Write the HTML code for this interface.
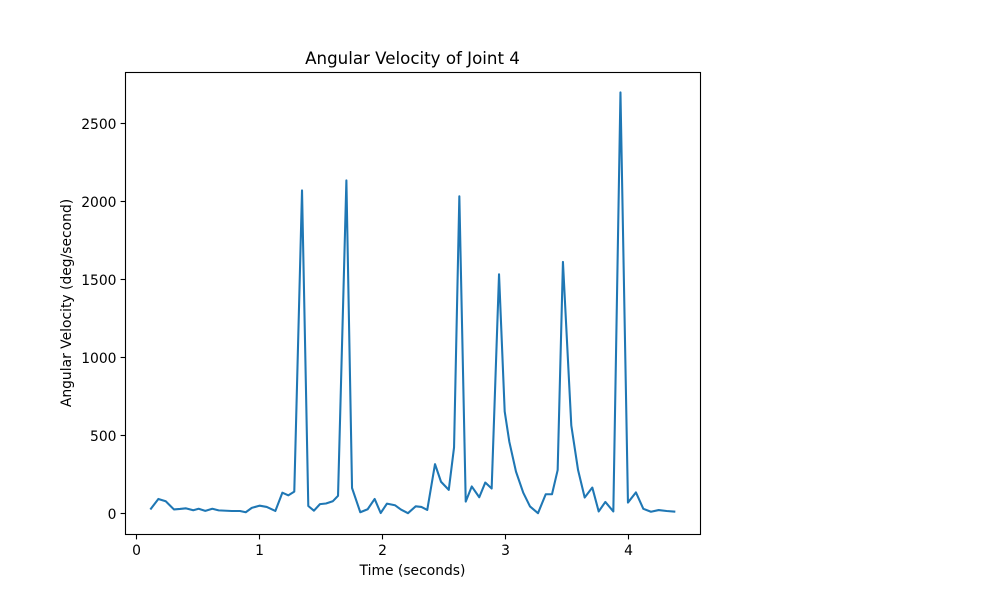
<!DOCTYPE html>
<html lang="en">
<head>
<meta charset="utf-8">
<title>Angular Velocity of Joint 4</title>
<style>
html,body{margin:0;padding:0;background:#fff;}
svg{display:block;}
text{font-family:"DejaVu Sans",sans-serif;fill:#000;}
</style>
</head>
<body>
<svg id="chart" xmlns="http://www.w3.org/2000/svg" width="1000" height="600" viewBox="0 0 1000 600">
  <rect x="0" y="0" width="1000" height="600" fill="#fff"/>
  <text x="412.5" y="64" font-size="16.67" text-anchor="middle">Angular Velocity of Joint 4</text>
  <text x="412.5" y="575" font-size="13.89" text-anchor="middle">Time (seconds)</text>
  <text x="0" y="0" font-size="13.89" text-anchor="middle" transform="translate(71 303) rotate(-90)">Angular Velocity (deg/second)</text>
  <g id="ticks"></g>
  <path id="series" fill="none" stroke="#1f77b4" stroke-width="2.08" stroke-linejoin="round" stroke-linecap="square"></path>
  <rect x="125.5" y="72.5" width="575" height="462" fill="none" stroke="#000" stroke-width="1.11"/>
</svg>
<script>
const times = [0.117,0.177,0.237,0.304,0.353,0.402,0.461,0.505,0.559,0.616,0.668,0.774,0.841,0.888,0.937,1.002,1.059,1.129,1.186,1.234,1.283,1.346,1.397,1.443,1.492,1.541,1.596,1.639,1.707,1.753,1.820,1.880,1.937,1.986,2.037,2.102,2.151,2.208,2.271,2.317,2.365,2.428,2.477,2.540,2.583,2.626,2.678,2.727,2.788,2.837,2.889,2.949,2.995,3.033,3.087,3.146,3.201,3.266,3.329,3.380,3.426,3.469,3.537,3.592,3.646,3.708,3.760,3.814,3.879,3.937,3.998,4.063,4.123,4.185,4.248,4.313,4.375];
const velocity = [33,95,80,28,31,35,23,32,19,32,22,18,18,10,38,52,44,18,135,118,142,2070,50,20,62,66,80,115,2134,165,10,29,95,5,65,55,27,4,48,44,25,318,205,153,425,2032,78,175,106,200,162,1533,655,460,270,135,47,4,125,125,280,1612,565,280,104,168,15,76,15,2697,72,137,32,13,24,18,14];
const xTicks = [0,1,2,3,4];
const yTicks = [0,500,1000,1500,2000,2500];

function xScale(t){ return 136.6 + t * 122.9; }
function yScale(v){ return 513.8 - v * 0.15624; }

const svgNS = 'http://www.w3.org/2000/svg';
const tickGroup = document.getElementById('ticks');

function addTick(x1, y1, x2, y2){
  const line = document.createElementNS(svgNS, 'line');
  line.setAttribute('x1', x1);
  line.setAttribute('y1', y1);
  line.setAttribute('x2', x2);
  line.setAttribute('y2', y2);
  line.setAttribute('stroke', '#000');
  line.setAttribute('stroke-width', '1.11');
  
  
  tickGroup.appendChild(line);
}
function addLabel(x, y, anchor, value){
  const label = document.createElementNS(svgNS, 'text');
  label.setAttribute('x', x);
  label.setAttribute('y', y);
  label.setAttribute('text-anchor', anchor);
  label.setAttribute('font-size', '13.89');
  label.textContent = value;
  
  
  tickGroup.appendChild(label);
}

xTicks.forEach(function(t){
  const x = Math.floor(xScale(t)) + 0.5;
  addTick(x, 534.5, x, 539.4);
  addLabel(x, 555, 'middle', String(t));
});
yTicks.forEach(function(v){
  const y = Math.floor(yScale(v)) + 0.5;
  addTick(125.5, y, 120.6, y);
  addLabel(116.5, y + 5.5, 'end', String(v));
});

document.getElementById('series').setAttribute('d', times.map(function(t, i){
  return (i ? 'L' : 'M') + xScale(t).toFixed(2) + ' ' + yScale(velocity[i]).toFixed(2);
}).join(' '));
</script>
</body>
</html>
